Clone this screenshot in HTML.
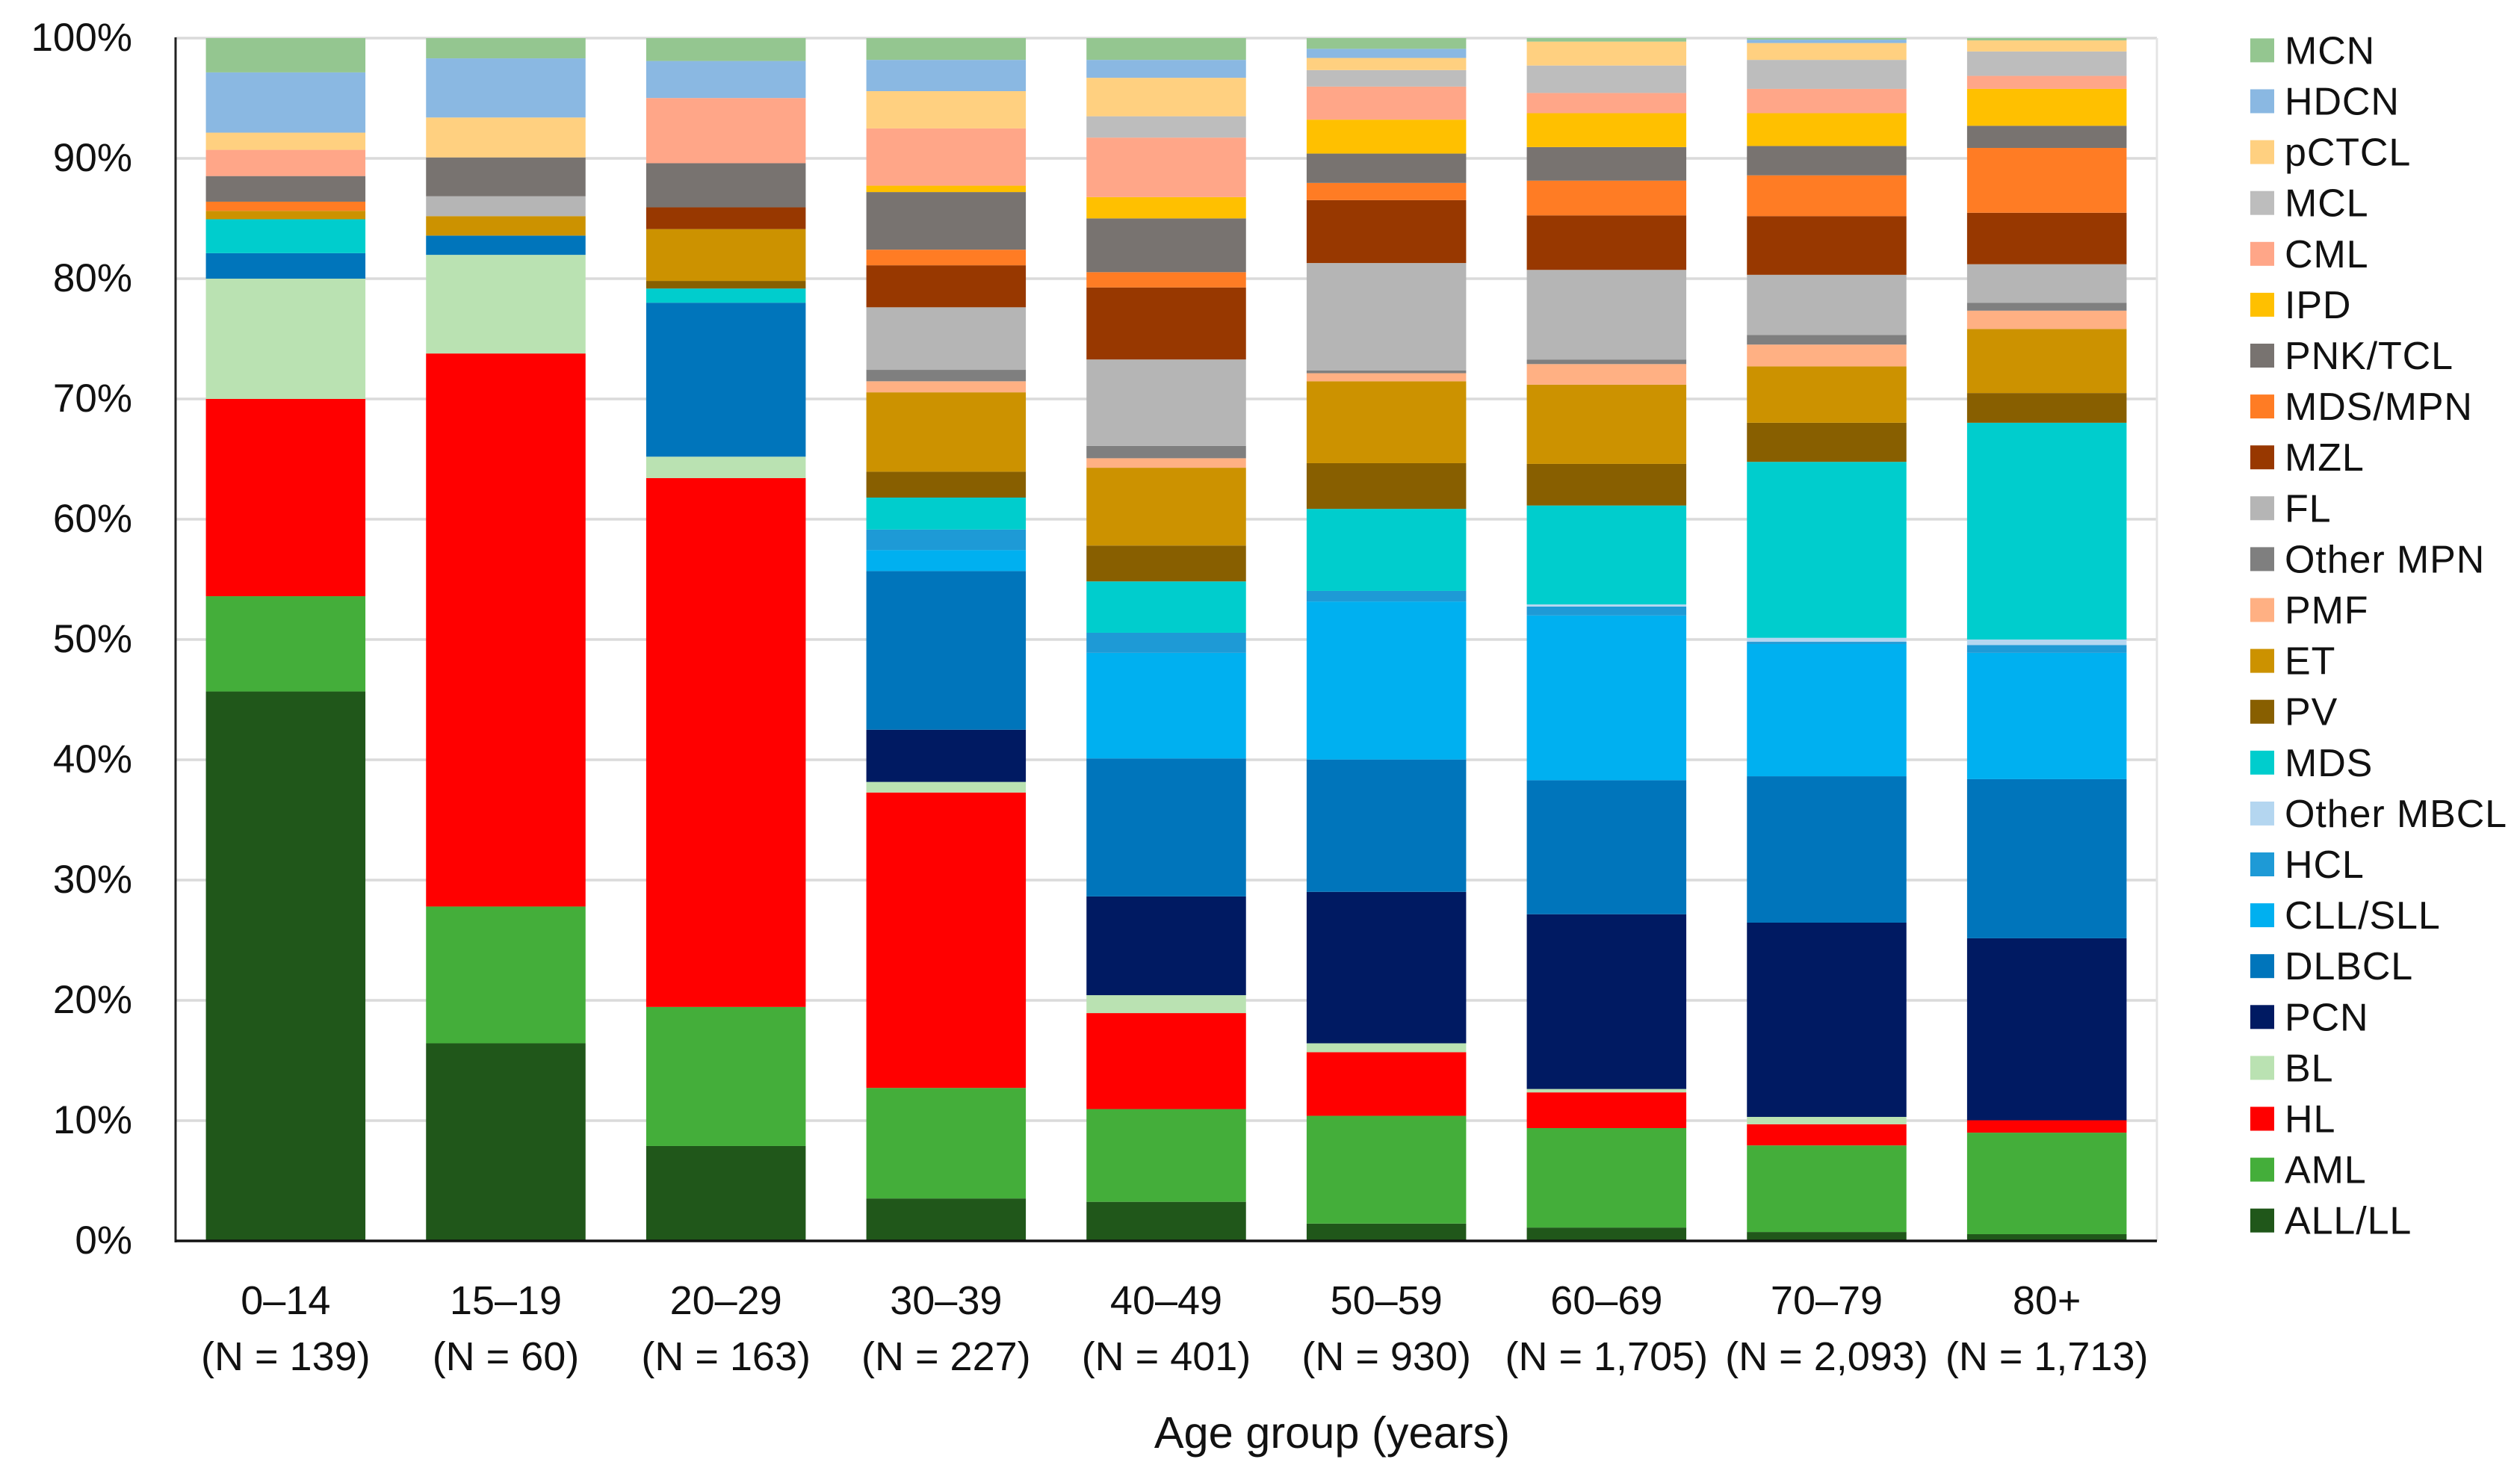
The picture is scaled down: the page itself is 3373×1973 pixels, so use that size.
<!DOCTYPE html>
<html lang="en">
<head>
<meta charset="utf-8">
<title>Hematologic neoplasm subtypes by age group</title>
<style>
html,body{margin:0;padding:0;background:#fff;}
#chart{display:block;width:3373px;height:1973px;font-family:"Liberation Sans",sans-serif;fill:#111;}
</style>
</head>
<body>
<svg id="chart" xmlns="http://www.w3.org/2000/svg" width="3373" height="1973" viewBox="0 0 3373 1973">
<g id="grid"></g>
<g id="bars"></g>
<g id="axes"></g>
<g id="yticks"></g>
<g id="xticks"></g>
<text x="1783" y="1938" font-size="59.5" text-anchor="middle">Age group (years)</text>
<g id="legend"></g>
</svg>
<script>
const ageGroups = ["0–14","15–19","20–29","30–39","40–49","50–59","60–69","70–79","80+"];
const sampleSizes = ["(N = 139)","(N = 60)","(N = 163)","(N = 227)","(N = 401)","(N = 930)","(N = 1,705)","(N = 2,093)","(N = 1,713)"];
const yTickValues = [0,10,20,30,40,50,60,70,80,90,100];

const allLL    = [45.68,16.43,7.89,3.53,3.25,1.44,1.11,0.74,0.56];
const aml      = [7.92,11.37,11.56,9.19,7.71,8.96,8.27,7.20,8.44];
const hl       = [16.40,45.98,43.97,24.56,7.98,5.29,2.97,1.76,1.03];
const bl       = [10.00,8.20,1.78,0.88,1.49,0.74,0.28,0.61,0];
const pcn      = [0,0,0,4.34,8.21,12.59,14.53,16.15,15.13];
const dlbcl    = [2.12,1.60,12.80,13.19,11.47,11.00,11.14,12.17,13.23];
const cllSll   = [0,0,0,1.74,8.78,13.14,13.70,11.00,10.50];
const hcl      = [0,0,0,1.71,1.67,0.88,0.74,0.18,0.65];
const otherMbcl= [0,0,0,0,0,0,0.18,0.33,0.46];
const mds      = [2.82,0,1.18,2.66,4.27,6.82,8.22,14.63,18.02];
const pv       = [0,0,0.63,2.15,2.98,3.80,3.46,3.25,2.47];
const et       = [0.70,1.62,4.31,6.60,6.47,6.81,6.59,4.69,5.33];
const pmf      = [0,0,0,0.92,0.79,0.67,1.71,1.81,1.52];
const otherMpn = [0,0,0,0.95,1.02,0.22,0.38,0.79,0.66];
const fl       = [0,1.65,0,5.20,7.19,8.94,7.45,5.01,3.20];
const mzl      = [0,0,1.81,3.49,5.99,5.23,4.53,4.88,4.28];
const mdsMpn   = [0.76,0,0,1.30,1.27,1.43,2.89,3.39,5.39];
const pnkTcl   = [2.13,3.23,3.67,4.79,4.47,2.44,2.79,2.44,1.84];
const ipd      = [0,0,0,0.53,1.77,2.82,2.82,2.73,3.07];
const cml      = [2.18,0,5.42,4.76,4.95,2.75,1.68,2.02,1.08];
const mcl      = [0,0,0,0,1.77,1.37,2.28,2.41,2.03];
const pctcl    = [1.43,3.32,0,3.10,3.20,1.01,1.99,1.40,0.92];
const hdcn     = [5.01,4.92,3.08,2.60,1.49,0.76,0,0.28,0];
const mcn      = [2.85,1.68,1.90,1.81,1.81,0.89,0.29,0.13,0.19];

const seriesNames = ["ALL/LL","AML","HL","BL","PCN","DLBCL","CLL/SLL","HCL","Other MBCL","MDS","PV","ET","PMF","Other MPN","FL","MZL","MDS/MPN","PNK/TCL","IPD","CML","MCL","pCTCL","HDCN","MCN"];
const seriesValues = [allLL,aml,hl,bl,pcn,dlbcl,cllSll,hcl,otherMbcl,mds,pv,et,pmf,otherMpn,fl,mzl,mdsMpn,pnkTcl,ipd,cml,mcl,pctcl,hdcn,mcn];
const seriesColors = ["#20571A","#44AE3A","#FF0000","#BAE2B2","#001A62","#0075BB","#00B0F0","#1E9AD6","#B4D6F0","#00CDCD","#885F00","#CC9200","#FFB083","#7F7F7F","#B5B5B5","#983800","#FF7C24","#787370","#FFC000","#FFA688","#BDBDBD","#FFD080","#8AB8E2","#94C690"];

const NS = "http://www.w3.org/2000/svg";
const plotLeft = 235, plotRight = 2887, plotTop = 51, plotBottom = 1661;
const bandWidth = (plotRight - plotLeft) / ageGroups.length;
const barWidth = 213.5;
function yScale(v){ return plotBottom - (plotBottom - plotTop) * v / 100; }
function xCenter(i){ return plotLeft + bandWidth * (i + 0.5); }
function slug(s){ return s.toLowerCase().replace(/[^a-z0-9]+/g, "-").replace(/^-|-$/g, ""); }
function make(tag, parent, attrs){
  const el = document.createElementNS(NS, tag);
  for (const k in attrs) el.setAttribute(k, attrs[k]);
  parent.appendChild(el);
  return el;
}

const grid = document.getElementById("grid");
const bars = document.getElementById("bars");
const axes = document.getElementById("axes");
const yticks = document.getElementById("yticks");
const xticks = document.getElementById("xticks");
const legend = document.getElementById("legend");

yTickValues.forEach(function(t){
  const y = yScale(t);
  if (t > 0) {
    const line = make("line", grid, {x1: plotLeft, x2: plotRight, y1: y, y2: y, stroke: "#DADADA", "stroke-width": 3.5});
    
    
  }
  const label = make("text", yticks, {x: 177, y: y + 17, "font-size": 53, "text-anchor": "end"});
  label.textContent = t + "%";
  
  
});

const rightBorder = make("line", grid, {x1: plotRight, x2: plotRight, y1: plotTop, y2: plotBottom, stroke: "#E4E4E4", "stroke-width": 3});



ageGroups.forEach(function(group, i){
  let cum = 0;
  seriesValues.forEach(function(values, s){
    const v = values[i];
    const y0 = yScale(cum);
    cum += v;
    const y1 = yScale(cum);
    if (v > 0) {
      const r = make("rect", bars, {x: xCenter(i) - barWidth / 2, y: y1, width: barWidth, height: y0 - y1, fill: seriesColors[s]});
      
      
    }
  });
  const l1 = make("text", xticks, {x: xCenter(i), y: 1759, "font-size": 54, "text-anchor": "middle"});
  l1.textContent = group;
  
  
  const l2 = make("text", xticks, {x: xCenter(i), y: 1834, "font-size": 54, "text-anchor": "middle"});
  l2.textContent = sampleSizes[i];
  
  
});

const yAxis = make("line", axes, {x1: plotLeft, x2: plotLeft, y1: plotTop - 1, y2: plotBottom + 2, stroke: "#222", "stroke-width": 3});


const xAxis = make("line", axes, {x1: plotLeft, x2: plotRight, y1: plotBottom, y2: plotBottom, stroke: "#111", "stroke-width": 3.5});



for (let k = 0; k < seriesNames.length; k++) {
  const s = seriesNames.length - 1 - k;
  const cy = 67.4 + 68.1 * k;
  const entry = make("g", legend, {});
  
  
  const sw = make("rect", entry, {x: 3012, y: cy - 16, width: 32, height: 32, fill: seriesColors[s]});
  
  
  const tx = make("text", entry, {x: 3058, y: cy + 18, "font-size": 52, "letter-spacing": 0.9});
  tx.textContent = seriesNames[s];
  
  
}
</script>
</body>
</html>
